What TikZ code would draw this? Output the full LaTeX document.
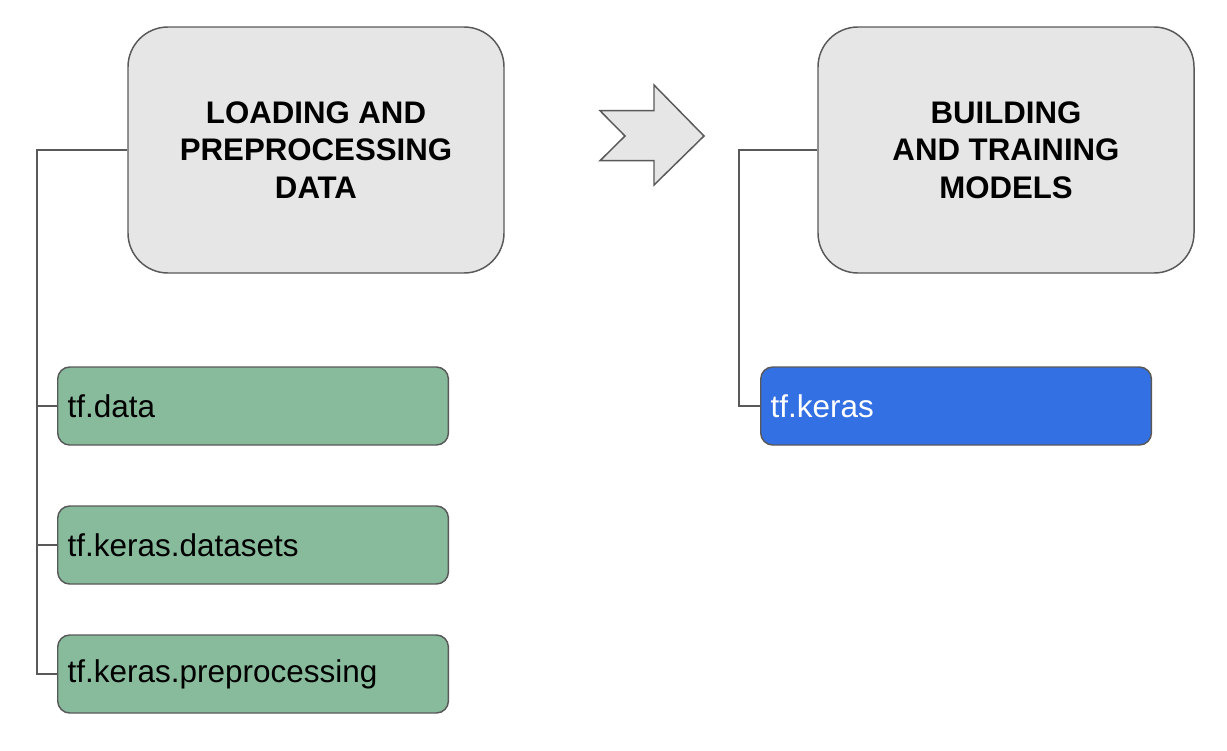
\documentclass[tikz,border=0pt]{standalone}
\usepackage{fontspec}
\setmainfont{Liberation Sans}
\definecolor{boxgray}{HTML}{E6E6E6}
\definecolor{edgegray}{HTML}{595959}
\definecolor{tfgreen}{HTML}{87BB9B}
\definecolor{tfblue}{HTML}{3370E3}
\tikzset{
  headbox/.style={draw=edgegray, line width=1.1pt, fill=boxgray, rounded corners=30pt,
    minimum width=282pt, minimum height=184.5pt, align=center,
    font=\fontsize{23.4}{28.1}\selectfont\bfseries, inner sep=0pt},
  itembox/.style={draw=edgegray, line width=1.1pt, rounded corners=9pt,
    minimum width=293pt, minimum height=58.5pt, anchor=west, text width=278pt,
    inner xsep=7.5pt, align=left, font=\fontsize{23.6}{28}\selectfont},
  greenbox/.style={itembox, fill=tfgreen, text=black},
  bluebox/.style={itembox, fill=tfblue, text=white},
  link/.style={draw=edgegray, line width=1.1pt},
  bigarrow/.style={draw=edgegray, line width=1.1pt, fill=boxgray, line join=miter}
}
\begin{document}
\begin{tikzpicture}[x=0.75pt, y=-0.75pt]
\useasboundingbox (0,0) rectangle (1227,750);
% header boxes
\node[headbox] (load) at (316,150) {LOADING AND\\PREPROCESSING\\DATA};
\node[headbox] (build) at (1006,150) {BUILDING\\AND TRAINING\\MODELS};
% item boxes
\node[greenbox] (data) at (57,406) {tf.data};
\node[greenbox] (datasets) at (57,545) {tf.keras.datasets};
\node[greenbox] (prep) at (57,674) {tf.keras.preprocessing};
\node[bluebox] (keras) at (760,406) {tf.keras};
% connector coordinates
\coordinate (lt) at (37,150);
\coordinate (lb) at (37,674);
\coordinate (rt) at (739,150);
\coordinate (rb) at (739,406);
% connectors
\draw[link] (load.west) -- (lt) -- (lb) -- (prep.west);
\draw[link] (data.west) -- (data.west -| lt);
\draw[link] (datasets.west) -- (datasets.west -| lt);
\draw[link] (build.west) -- (rt) -- (rb) -- (keras.west);
% chevron arrow
\draw[bigarrow] (600,110.7) -- (654,110.7) -- (654,85) -- (704,136) -- (654,185)
  -- (654,160.7) -- (600,160.7) -- (625,136) -- cycle;
\end{tikzpicture}
\end{document}
